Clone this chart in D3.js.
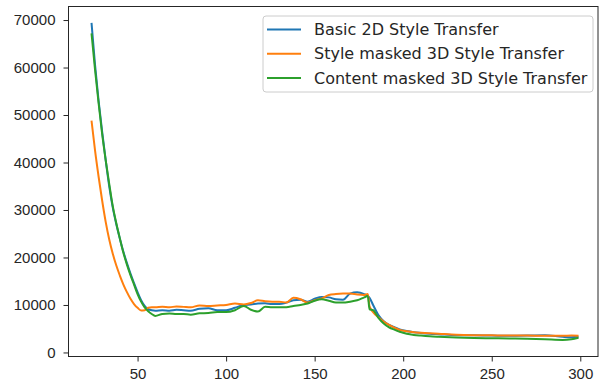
<!DOCTYPE html>
<html>
<head>
<meta charset="utf-8">
<script src="https://cdn.jsdelivr.net/npm/d3@7"></script>
<style>
  body { margin: 0; background: #fff; }
  svg { display: block; font-family: "DejaVu Sans", sans-serif; }
  .tick text { fill: #262626; font-size: 15px; }
  .tick line { stroke: #262626; }
</style>
</head>
<body>
<div id="chart"></div>
<script>
// x values (epochs) shared by all three series
var epochs = [24, 26, 28, 30, 32, 34, 36, 38, 40, 42, 44, 46, 48, 50, 52, 54, 56, 58, 60,
  64, 68, 72, 76, 80, 85, 90, 95, 100, 105, 110, 114, 118, 122, 126, 130, 134, 138, 142,
  146, 150, 154, 158, 162, 166, 170, 174, 178, 180, 181, 183, 186, 189, 192, 195, 198,
  202, 206, 210, 215, 220, 230, 240, 250, 260, 270, 280, 290, 295, 299];

var basic2d = [69400, 60500, 53000, 46500, 40500, 35000, 30500, 27000, 24000, 21200, 18800,
  16600, 14600, 12700, 11000, 9800, 9100, 8900, 8800,
  8900, 8800, 9000, 8900, 8800, 9200, 9300, 8900, 8900, 9400, 10000, 10100, 10300, 10350,
  10200, 10200, 10500, 11000, 11100, 10700, 11300, 11700, 11600, 11200, 11100, 12400, 12700,
  12300, 11900, 11500, 10000, 7900, 6600, 5800, 5300, 4870,
  4500, 4250, 4100, 3950, 3850, 3650, 3600, 3550, 3500, 3550, 3650, 3300, 3200, 3300];

var styleMasked = [48800, 42500, 37000, 32000, 27500, 23800, 20800, 18300, 16200, 14300, 12700,
  11300, 10200, 9400, 8850, 8900, 9400, 9500, 9500,
  9600, 9500, 9700, 9600, 9500, 9900, 9800, 9900, 10000, 10300, 10100, 10400, 11000, 10800,
  10700, 10700, 10500, 11500, 11200, 10500, 11000, 11400, 12100, 12300, 12400, 12400, 12200,
  12100, 12300, 9700, 8500, 7400, 6500, 5800, 5200, 4730,
  4450, 4250, 4150, 4050, 3950, 3750, 3650, 3600, 3550, 3550, 3500, 3500, 3550, 3500];

var contentMasked = [67200, 59500, 52500, 46000, 40500, 35500, 30800, 27200, 24000, 21000, 18500,
  16300, 14300, 12300, 10700, 9500, 8700, 8100, 7700,
  8100, 8200, 8100, 8100, 7950, 8250, 8300, 8500, 8500, 8900, 9800, 9000, 8600, 9600,
  9500, 9500, 9500, 9800, 10000, 10300, 10900, 11200, 10900, 10500, 10500, 10700, 11000,
  11600, 11900, 9100, 8900, 7300, 6100, 5300, 4800, 4370,
  3950, 3700, 3550, 3400, 3300, 3150, 3050, 3000, 2950, 2900, 2800, 2650, 2800, 3100];

var seriesNames = ["Basic 2D Style Transfer", "Style masked 3D Style Transfer", "Content masked 3D Style Transfer"];
var seriesColors = ["#1f77b4", "#ff7f0e", "#2ca02c"];
var seriesValues = [basic2d, styleMasked, contentMasked];

var xTicks = [50, 100, 150, 200, 250, 300];
var yTicks = [0, 10000, 20000, 30000, 40000, 50000, 60000, 70000];

var width = 600, height = 386;
var plot = { left: 68.5, right: 598, top: 6.5, bottom: 356.5 };

var svg = d3.select("#chart").append("svg")
  .attr("width", width)
  .attr("height", height);

var x = d3.scaleLinear().domain([11, 310]).range([plot.left, plot.right]);
var y = d3.scaleLinear().domain([-850, 72850]).range([plot.bottom, plot.top]);

// axes
var xAxis = svg.append("g")
  .attr("transform", "translate(0," + plot.bottom + ")")
  .call(d3.axisBottom(x).tickValues(xTicks).tickSize(5).tickPadding(7).tickFormat(d3.format("d")));
var yAxis = svg.append("g")
  .attr("transform", "translate(" + plot.left + ",0)")
  .call(d3.axisLeft(y).tickValues(yTicks).tickSize(5).tickPadding(8).tickFormat(d3.format("d")));
xAxis.select(".domain").remove();
yAxis.select(".domain").remove();

// lines
var line = d3.line()
  .curve(d3.curveMonotoneX)
  .x(function(d) { return x(d[0]); })
  .y(function(d) { return y(d[1]); });

seriesValues.forEach(function(vals, i) {
  svg.append("path")
    .datum(epochs.map(function(e, j) { return [e, vals[j]]; }))
    .attr("fill", "none")
    .attr("stroke", seriesColors[i])
    .attr("stroke-width", 2)
    .attr("stroke-linejoin", "round")
    .attr("d", line);
});

// frame
svg.append("rect")
  .attr("x", plot.left)
  .attr("y", plot.top)
  .attr("width", plot.right - plot.left)
  .attr("height", plot.bottom - plot.top)
  .attr("fill", "none")
  .attr("stroke", "#262626")
  .attr("stroke-width", 1);

// legend
var legend = svg.append("g").attr("transform", "translate(263,16)");
legend.append("rect")
  .attr("width", 330)
  .attr("height", 76)
  .attr("rx", 3)
  .attr("fill", "#fff")
  .attr("fill-opacity", 0.8)
  .attr("stroke", "#ccc");
seriesNames.forEach(function(name, i) {
  var row = legend.append("g").attr("transform", "translate(0," + (13.5 + i * 24.2) + ")");
  row.append("line")
    .attr("x1", 4).attr("x2", 38)
    .attr("stroke", seriesColors[i])
    .attr("stroke-width", 2);
  row.append("text")
    .attr("x", 51)
    .attr("dy", "0.35em")
    .attr("fill", "#262626")
    .style("font-size", "16px")
    .text(name);
});
</script>
</body>
</html>
